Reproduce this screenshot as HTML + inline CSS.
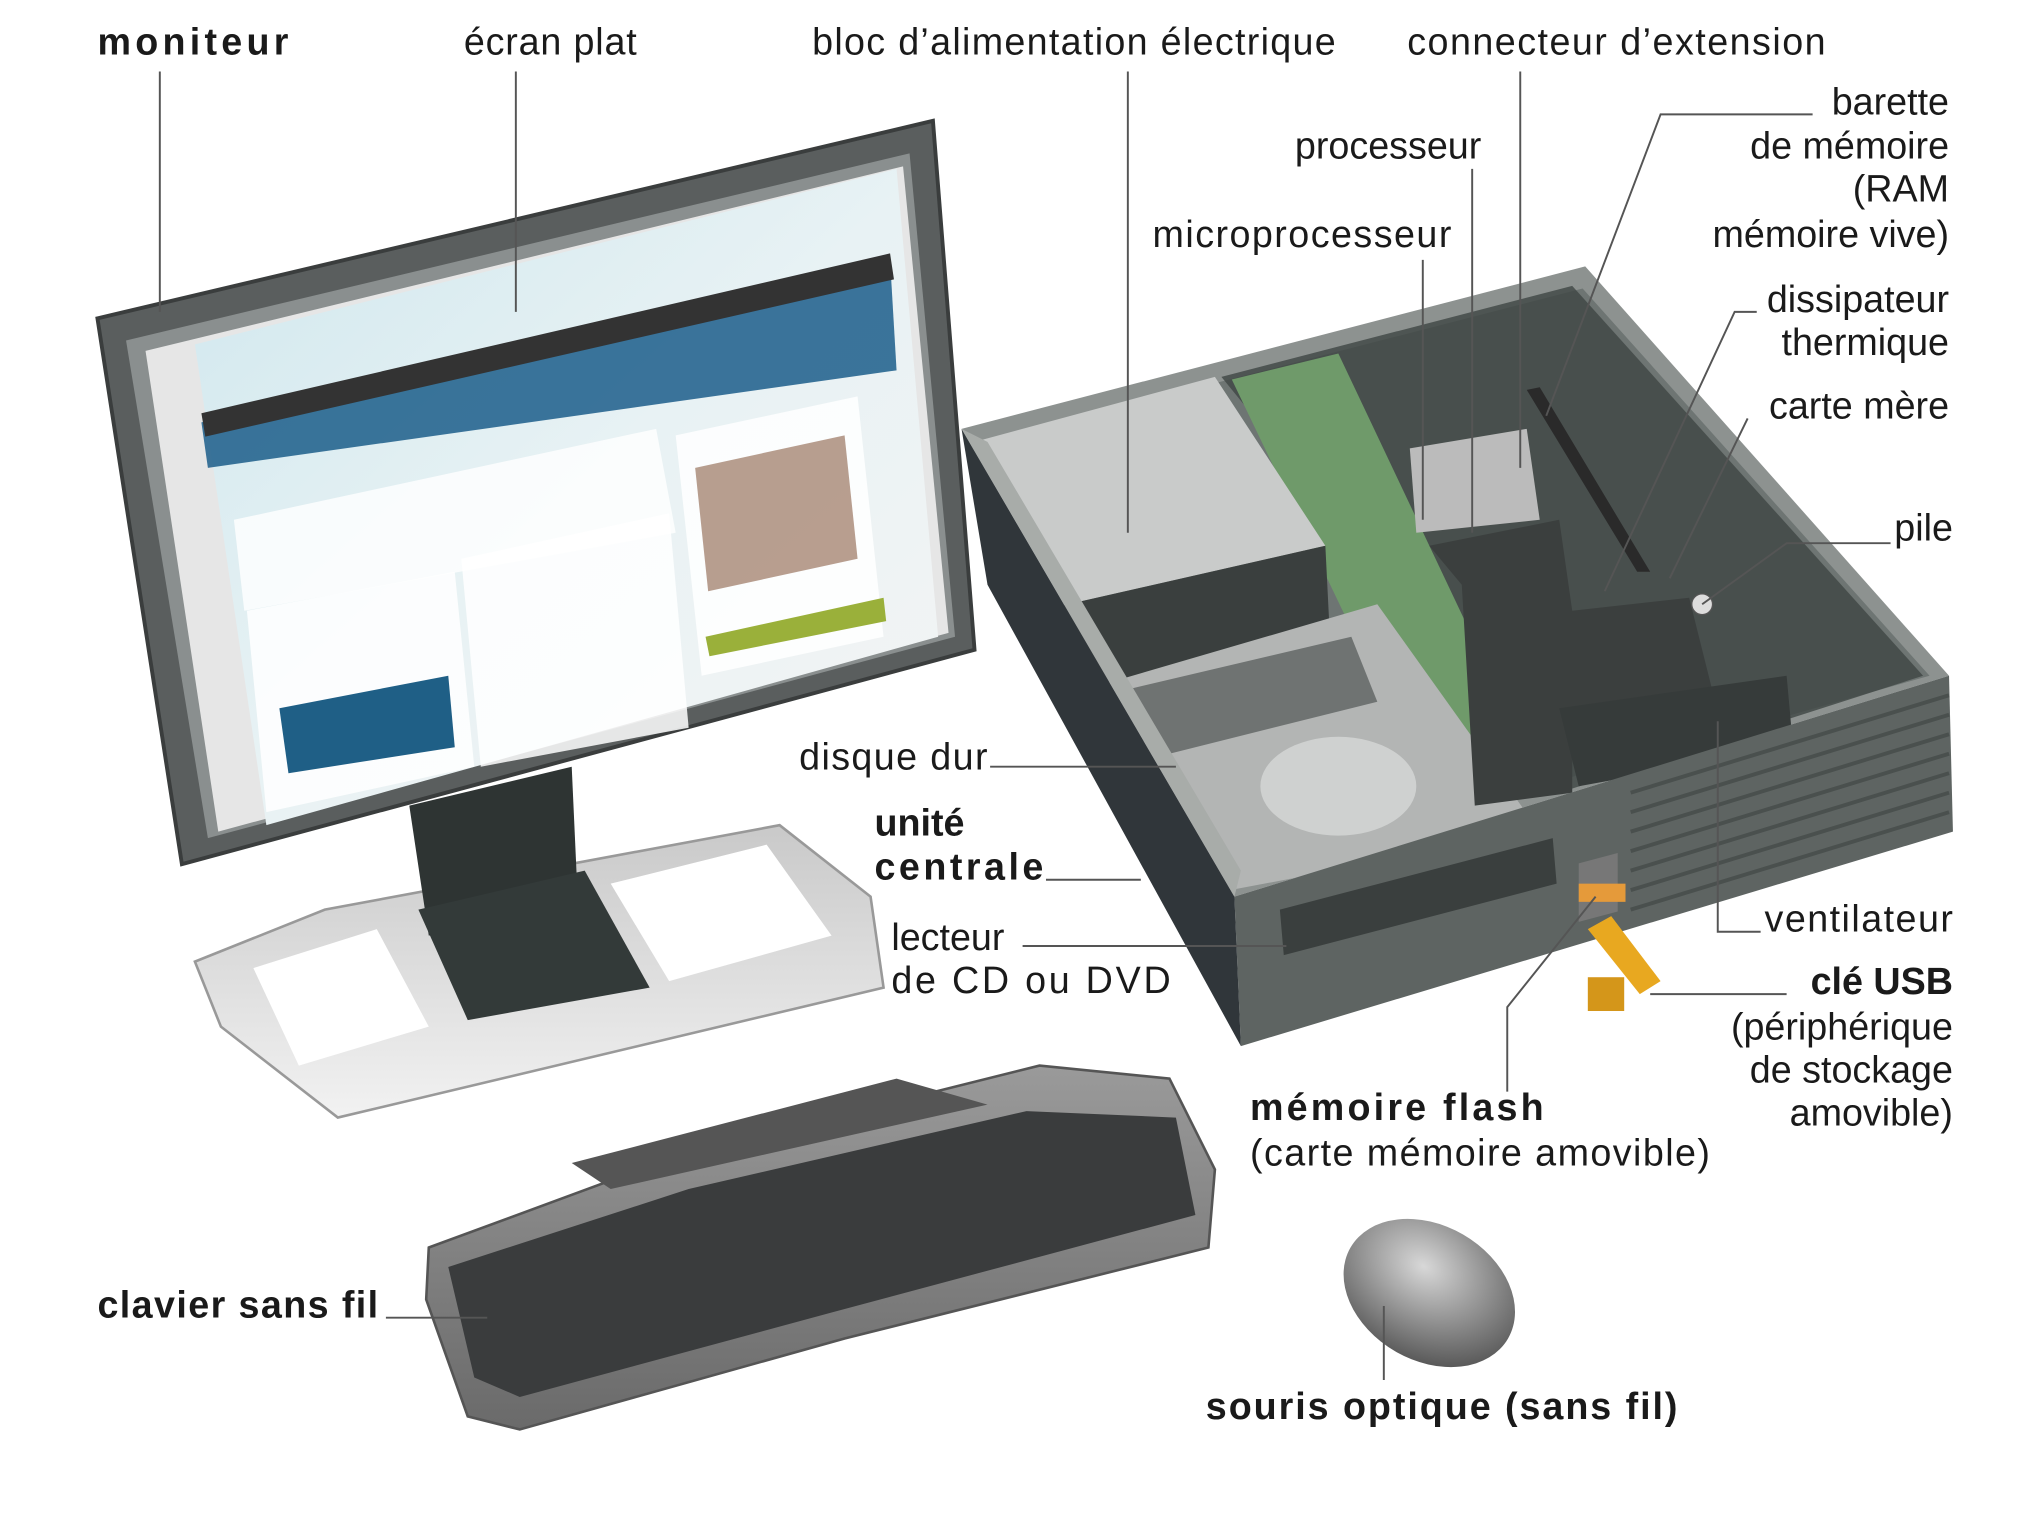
<!DOCTYPE html>
<html><head><meta charset="utf-8"><style>
html,body{margin:0;padding:0;background:#fff;}
svg{display:block;}
text{font-family:"Liberation Sans",sans-serif;font-size:29px;fill:#1a1a1a;}
.b{font-weight:bold;}
.l{stroke:#555;stroke-width:1.5;fill:none;}
</style></head><body>
<svg width="2027" height="1536" viewBox="0 0 1560 1182" preserveAspectRatio="none" xmlns="http://www.w3.org/2000/svg">
<defs>
<linearGradient id="scr" x1="0" y1="0" x2="1" y2="1"><stop offset="0" stop-color="#cfe7ee"/><stop offset="0.5" stop-color="#e8f2f4"/><stop offset="1" stop-color="#f4f4f4"/></linearGradient>
<linearGradient id="base" x1="0" y1="0" x2="0" y2="1"><stop offset="0" stop-color="#c9c9c9"/><stop offset="1" stop-color="#f2f2f2"/></linearGradient>
<radialGradient id="mouse" cx="0.4" cy="0.35" r="0.7"><stop offset="0" stop-color="#d8d8d8"/><stop offset="1" stop-color="#555"/></radialGradient>
<linearGradient id="kb" x1="0" y1="0" x2="0" y2="1"><stop offset="0" stop-color="#9a9a9a"/><stop offset="1" stop-color="#6a6a6a"/></linearGradient>
</defs>

<!-- monitor base -->
<path d="M150,740 L250,700 L600,635 L670,690 L680,760 L260,860 L170,790 Z" fill="url(#base)" stroke="#999" stroke-width="2"/>
<path d="M195,745 L290,715 L330,790 L230,820 Z" fill="#fff"/>
<path d="M470,680 L590,650 L640,720 L515,755 Z" fill="#fff"/>
<!-- stand -->
<path d="M315,620 L440,590 L445,700 L330,720 Z" fill="#2e3433"/>
<path d="M322,700 L450,670 L500,760 L360,785 Z" fill="#333a39"/>
<!-- monitor frame -->
<path d="M75,245 L718,93 L750,500 L140,665 Z" fill="#5a5e5e" stroke="#3a3d3d" stroke-width="3"/>
<path d="M97,262 L700,118 L735,490 L160,645 Z" fill="#8a8f8f"/>
<path d="M112,270 L695,128 L730,487 L168,640 Z" fill="#e6e6e6"/>
<path d="M150,265 L690,130 L722,490 L205,635 Z" fill="url(#scr)"/>
<path d="M155,325 L685,200 L690,285 L160,360 Z" fill="#1b5d8a" opacity="0.85"/>
<path d="M155,318 L685,195 L688,215 L158,336 Z" fill="#333"/>
<path d="M180,400 L505,330 L520,410 L188,470 Z" fill="#fff" opacity="0.8"/>
<path d="M190,470 L350,440 L365,590 L205,625 Z" fill="#fff" opacity="0.85"/>
<path d="M355,430 L515,395 L530,560 L370,590 Z" fill="#fff" opacity="0.85"/>
<path d="M215,545 L345,520 L350,575 L222,595 Z" fill="#1f5f86"/>
<path d="M520,335 L660,305 L680,490 L540,520 Z" fill="#fff" opacity="0.85"/>
<path d="M535,360 L650,335 L660,430 L545,455 Z" fill="#a07d6a" opacity="0.75"/>
<path d="M543,490 L680,460 L682,478 L546,505 Z" fill="#9ab03a"/>

<!-- PC case -->
<path d="M740,330 L1220,205 L1500,520 L950,690 Z" fill="#8d9290"/>
<path d="M760,340 L1218,222 L1485,520 L955,670 Z" fill="#6e7573"/>
<path d="M940,290 L1210,220 L1480,520 L1200,610 Z" fill="#3f4644" opacity="0.8"/>
<path d="M948,292 L1030,272 L1190,610 L1110,630 Z" fill="#6f9a6a"/>
<path d="M750,340 L935,290 L1020,420 L800,470 Z" fill="#c9cbca"/>
<path d="M800,470 L1020,420 L1025,520 L815,530 Z" fill="#3a3f3e"/>
<path d="M820,535 L1060,465 L1185,640 L920,690 Z" fill="#b3b5b4"/>
<ellipse cx="1030" cy="605" rx="60" ry="38" fill="#cfd1d0"/>
<path d="M870,530 L1040,490 L1060,540 L900,580 Z" fill="#6f7372"/>
<path d="M1100,420 L1200,400 L1210,470 L1300,460 L1320,540 L1210,560 L1210,610 L1135,620 L1125,450 Z" fill="#3b3f3e"/>
<path d="M1200,545 L1375,520 L1380,575 L1215,605 Z" fill="#363b3a"/>
<path d="M1085,345 L1175,330 L1185,400 L1090,410 Z" fill="#bbb"/>
<path d="M1175,300 L1260,440 L1270,440 L1185,298 Z" fill="#2a2a2a"/>
<circle cx="1310" cy="465" r="8" fill="#ddd" stroke="#555"/>
<!-- front face -->
<path d="M950,690 L1500,520 L1503,640 L955,805 Z" fill="#5e6462"/>
<g stroke="#4a504e" stroke-width="3">
<line x1="1255" y1="610" x2="1500" y2="535"/><line x1="1255" y1="625" x2="1500" y2="550"/>
<line x1="1255" y1="640" x2="1500" y2="565"/><line x1="1255" y1="655" x2="1500" y2="580"/>
<line x1="1255" y1="670" x2="1500" y2="595"/><line x1="1255" y1="685" x2="1500" y2="610"/>
<line x1="1255" y1="700" x2="1500" y2="625"/>
</g>
<path d="M985,700 L1195,645 L1198,680 L988,735 Z" fill="#3a3f3e"/>
<rect x="1215" y="660" width="30" height="45" fill="#777" transform="skewY(-15) translate(0,330)"/>
<!-- left side -->
<path d="M740,330 L950,690 L955,805 L760,450 Z" fill="#30363a"/>
<path d="M740,330 L760,340 L955,670 L950,690 Z" fill="#a8aca9"/>
<!-- USB -->
<path d="M1222,715 L1240,705 L1278,755 L1262,765 Z" fill="#e8a820"/>
<rect x="1222" y="752" width="28" height="26" fill="#d4961a"/>
<rect x="1215" y="680" width="36" height="14" fill="#e59a3a"/>

<!-- keyboard -->
<path d="M330,960 L520,890 L800,820 L900,830 L935,900 L930,960 L650,1030 L400,1100 L360,1090 L328,1000 Z" fill="url(#kb)" stroke="#555" stroke-width="2"/>
<path d="M345,975 L530,915 L790,855 L905,860 L920,935 L640,1010 L400,1075 L365,1060 Z" fill="#3a3c3d"/>
<path d="M440,895 L690,830 L760,850 L470,915 Z" fill="#555"/>
<!-- mouse -->
<ellipse cx="1100" cy="995" rx="70" ry="52" transform="rotate(30 1100 995)" fill="url(#mouse)"/>

<!-- leader lines -->
<path class="l" d="M123,55 V240"/>
<path class="l" d="M397,55 V240"/>
<path class="l" d="M868,55 V410"/>
<path class="l" d="M1170,55 V360"/>
<path class="l" d="M1395,88 H1278 L1190,320"/>
<path class="l" d="M1133,130 V410"/>
<path class="l" d="M1095,200 V400"/>
<path class="l" d="M1352,240 H1335 L1235,455"/>
<path class="l" d="M1345,322 L1285,445"/>
<path class="l" d="M1455,418 H1375 L1310,465"/>
<path class="l" d="M1355,717 H1322 V555"/>
<path class="l" d="M1375,765 H1270"/>
<path class="l" d="M1160,840 V775 L1228,690"/>
<path class="l" d="M762,590 H905"/>
<path class="l" d="M805,677 H878"/>
<path class="l" d="M787,728 H990"/>
<path class="l" d="M297,1014 H375"/>
<path class="l" d="M1065,1062 V1005"/>

<!-- labels -->
<text x="75" y="42" class="b" textLength="147">moniteur</text>
<text x="357" y="42" textLength="133">écran plat</text>
<text x="625" y="42" textLength="403">bloc d’alimentation électrique</text>
<text x="1083" y="42" textLength="322">connecteur d’extension</text>
<text x="1500" y="88" text-anchor="end">barette</text>
<text x="1500" y="122" text-anchor="end">de mémoire</text>
<text x="1500" y="155" text-anchor="end">(RAM</text>
<text x="1500" y="190" text-anchor="end">mémoire vive)</text>
<text x="1140" y="122" text-anchor="end">processeur</text>
<text x="887" y="190" textLength="230">microprocesseur</text>
<text x="1500" y="240" text-anchor="end">dissipateur</text>
<text x="1500" y="273" text-anchor="end">thermique</text>
<text x="1500" y="322" text-anchor="end">carte mère</text>
<text x="1503" y="416" text-anchor="end">pile</text>
<text x="1358" y="717" textLength="145">ventilateur</text>
<text x="1503" y="765" text-anchor="end" class="b">clé USB</text>
<text x="1503" y="800" text-anchor="end">(périphérique</text>
<text x="1503" y="833" text-anchor="end">de stockage</text>
<text x="1503" y="866" text-anchor="end">amovible)</text>
<text x="962" y="862" class="b" textLength="226">mémoire flash</text>
<text x="962" y="897" textLength="354">(carte mémoire amovible)</text>
<text x="615" y="592" textLength="145">disque dur</text>
<text x="673" y="643" class="b">unité</text>
<text x="673" y="677" class="b" textLength="130">centrale</text>
<text x="686" y="731">lecteur</text>
<text x="686" y="764" textLength="215">de CD ou DVD</text>
<text x="75" y="1014" class="b" textLength="216">clavier sans fil</text>
<text x="928" y="1092" class="b" textLength="363">souris optique (sans fil)</text>
</svg>
</body></html>
